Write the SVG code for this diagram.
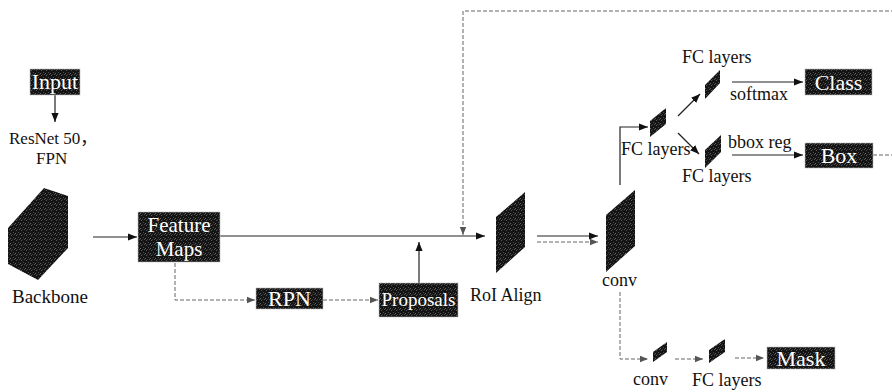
<svg xmlns="http://www.w3.org/2000/svg" width="892" height="392" viewBox="0 0 892 392">
<defs>
<pattern id="tex" width="5" height="5" patternUnits="userSpaceOnUse">
<rect width="5" height="5" fill="#141414"/>
<rect x="1" y="0" width="1" height="1" fill="#5a5a5a"/>
<rect x="3" y="2" width="1" height="1" fill="#4a4a4a"/>
<rect x="0" y="3" width="1" height="1" fill="#666"/>
<rect x="4" y="4" width="1" height="1" fill="#505050"/>
<rect x="2" y="4" width="1" height="1" fill="#3a3a3a"/>
</pattern>
<marker id="ah" viewBox="0 0 10 10" refX="10" refY="5" markerWidth="9" markerHeight="9" markerUnits="userSpaceOnUse" orient="auto">
<path d="M0,1 L10,5 L0,9 Z" fill="#111"/>
</marker>
<marker id="ahg" viewBox="0 0 10 10" refX="10" refY="5" markerWidth="8" markerHeight="8" markerUnits="userSpaceOnUse" orient="auto">
<path d="M0,1 L10,5 L0,9 Z" fill="#555"/>
</marker>
</defs>
<style>
.box{fill:url(#tex);stroke:#bbb;stroke-width:0.6}
.lay{fill:url(#tex)}
.bt{font-family:"Liberation Serif","Times New Roman",serif;fill:#fff;font-size:22px;text-anchor:middle}
.lb{font-family:"Liberation Serif","Times New Roman","Noto Sans CJK SC",serif;fill:#111;font-size:18px}
.s{fill:none;stroke:#222;stroke-width:1.2;marker-end:url(#ah)}
.d{fill:none;stroke:#666;stroke-width:1;stroke-dasharray:4,2;marker-end:url(#ahg)}
</style>
<rect width="892" height="392" fill="#fff"/>

<g id="connectors">
<line class="s" x1="55" y1="95" x2="55" y2="122"/>
<line class="s" x1="93" y1="237" x2="137" y2="237"/>
<line class="s" x1="220" y1="236" x2="485" y2="236"/>
<path class="d" d="M175,263 V300 H255"/>
<line class="d" x1="323" y1="300" x2="378" y2="300"/>
<line class="s" x1="419" y1="283" x2="419" y2="242"/>
<path class="d" d="M873,155 H896 V11 H463 V235"/>
<line class="s" x1="537" y1="236" x2="598" y2="236"/>
<line class="d" x1="537" y1="242" x2="598" y2="242"/>
<path class="s" d="M620,185 V127 H648"/>
<line class="s" x1="678" y1="116" x2="700" y2="94"/>
<line class="s" x1="678" y1="133" x2="699" y2="154"/>
<line class="s" x1="732" y1="82" x2="803" y2="82"/>
<line class="s" x1="732" y1="155" x2="803" y2="155"/>
<path class="d" d="M620,292 V359 H648"/>
<line class="d" x1="675" y1="359" x2="703" y2="359"/>
<line class="d" x1="735" y1="358" x2="764" y2="358"/>
</g>

<g id="input">
<rect class="box" x="30" y="69" width="50" height="26"/>
<text class="bt" x="55" y="89">Input</text>
</g>
<g id="resnet">
<text class="lb" x="9" y="144" style="font-size:17px">ResNet 50，</text>
<text class="lb" x="36" y="164" style="font-size:17px">FPN</text>
</g>
<g id="backbone">
<polygon class="lay" points="8,228 44,188 68,196 68,248 38,280 8,264"/>
<text class="lb" x="12" y="303" style="font-size:19px">Backbone</text>
</g>
<g id="featuremaps">
<rect class="box" x="138" y="212" width="82" height="50"/>
<text class="bt" x="179" y="232" style="font-size:21px">Feature</text>
<text class="bt" x="179" y="256" style="font-size:21px">Maps</text>
</g>
<g id="rpn">
<rect class="box" x="256" y="288" width="67" height="21"/>
<text class="bt" x="289.5" y="306">RPN</text>
</g>
<g id="proposals">
<rect class="box" x="379" y="283" width="79" height="34"/>
<text class="bt" x="418.5" y="306" style="font-size:19px">Proposals</text>
</g>
<g id="roialign">
<polygon class="lay" points="496,217 525,192 525,247 496,273"/>
<text class="lb" x="470" y="301">RoI Align</text>
</g>
<g id="conv">
<polygon class="lay" points="606,215 635,190 635,246 606,272"/>
<text class="lb" x="602" y="286">conv</text>
</g>
<g id="fc1">
<polygon class="lay" points="650,121 666,108 666,124 650,137"/>
<text class="lb" x="621" y="155">FC layers</text>
</g>
<g id="fc-top">
<polygon class="lay" points="705,85 720,70 720,83 705,99"/>
<text class="lb" x="682" y="63">FC layers</text>
<text class="lb" x="730" y="100">softmax</text>
</g>
<g id="fc-bottom">
<polygon class="lay" points="705,150 721,135 721,152 705,168"/>
<text class="lb" x="682" y="182">FC layers</text>
<text class="lb" x="728" y="148">bbox reg</text>
</g>
<g id="class">
<rect class="box" x="805" y="69" width="67" height="26"/>
<text class="bt" x="838.5" y="90">Class</text>
</g>
<g id="box">
<rect class="box" x="805" y="143" width="68" height="25"/>
<text class="bt" x="839" y="163">Box</text>
</g>
<g id="mask-conv">
<polygon class="lay" points="653,352 667,342 667,352 653,362"/>
<text class="lb" x="633" y="385">conv</text>
</g>
<g id="mask-fc">
<polygon class="lay" points="709,350 725,339 725,352 709,363"/>
<text class="lb" x="692" y="386">FC layers</text>
</g>
<g id="mask">
<rect class="box" x="767" y="347" width="68" height="22"/>
<text class="bt" x="801" y="366">Mask</text>
</g>
</svg>
